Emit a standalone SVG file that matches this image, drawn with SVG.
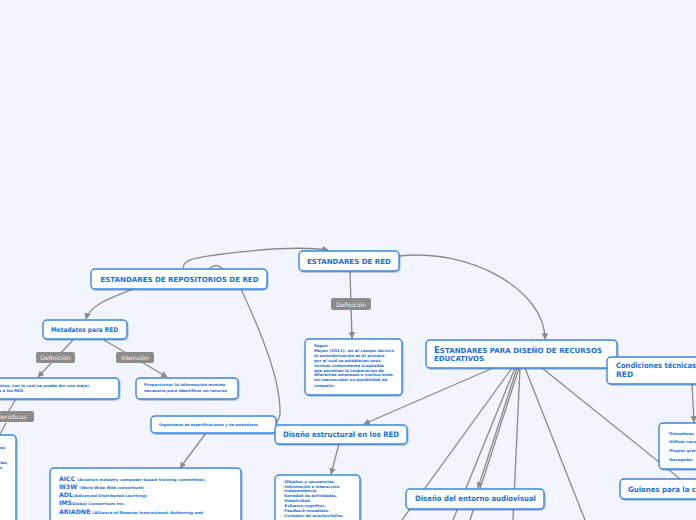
<svg xmlns="http://www.w3.org/2000/svg" width="696" height="520" viewBox="0 0 696 520">
<defs>
<marker id="ah" viewBox="0 0 10 10" refX="9" refY="5" markerWidth="6.5" markerHeight="6.5" orient="auto" markerUnits="userSpaceOnUse">
<path d="M0,0 L10,5 L0,10 z" fill="#8a8a8a"/>
</marker>
<filter id="sh" x="-10%" y="-10%" width="130%" height="150%">
<feDropShadow dx="0.8" dy="1" stdDeviation="0.6" flood-color="#1d4f8f" flood-opacity="0.35"/>
</filter>
<style>
.n{fill:#ffffff;stroke:#3a87df;stroke-width:1.4;filter:url(#sh)}
.l{fill:#8c8c8c}
.lt{font-family:"DejaVu Sans",sans-serif;font-size:6px;fill:#f2f2f2;text-anchor:middle}
.t{font-family:"DejaVu Sans",sans-serif;font-weight:bold;fill:#1b6fd4}
.c{fill:none;stroke:#8a8a8a;stroke-width:1.3}
.a{marker-end:url(#ah)}
.s{font-size:3.9px}
.m{text-anchor:middle}
</style>
</defs>
<rect width="696" height="520" fill="#f2f5fd"/>
<g id="connectors">
<path class="c a" d="M183,268 C184,259 195,258 215,255 C260,249 300,246 328,250"/>
<path class="c" d="M209,269 Q216,262 223,269"/>
<path class="c a" d="M399,256 C470,248 545,290 545,339"/>
<path class="c a" d="M350,271 L352,338"/>
<path class="c a" d="M133,289 C110,298 90,305 86,319"/>
<path class="c a" d="M73,340 L38,377"/>
<path class="c a" d="M104,340 L167,377"/>
<path class="c" d="M16,399 L8,412"/>
<path class="c" d="M6,423 L0,434"/>
<path class="c" d="M241,289 C260,330 281,380 280,414 Q279,421 275,424"/>
<path class="c a" d="M206,433 L180,468"/>
<path class="c a" d="M493,368 L364,424"/>
<path class="c a" d="M339,444 L331,474"/>
<path class="c" d="M512,368 L402,520"/>
<path class="c" d="M515,368 L453,520"/>
<path class="c a" d="M517,368 L478,488"/>
<path class="c" d="M519,368 L470,520"/>
<path class="c" d="M520,368 L513,520"/>
<path class="c" d="M525,368 L585,520"/>
<path class="c" d="M542,368 L700,495"/>
<path class="c a" d="M692,384 L694,422"/>
</g>
<g id="lbl-def1"><rect class="l" x="331" y="298" width="40" height="12" rx="2"/><text class="lt" x="351" y="306.5">Definición</text></g>
<g id="lbl-def2"><rect class="l" x="36" y="352" width="39" height="11" rx="2"/><text class="lt" x="55.5" y="360">Definición</text></g>
<g id="lbl-int"><rect class="l" x="116" y="352" width="38" height="11" rx="2"/><text class="lt" x="135" y="360">Intensión</text></g>
<g id="lbl-car"><rect class="l" x="-20" y="411" width="54" height="11" rx="2"/><text class="lt" x="4" y="418.5">Características</text></g>
<g id="n-repos"><rect class="n" x="91" y="269" width="176" height="20" rx="4"/><text class="t m" x="179.5" y="282" font-size="7" textLength="158" lengthAdjust="spacingAndGlyphs">ESTANDARES DE REPOSITORIOS DE RED</text></g>
<g id="n-red"><rect class="n" x="299" y="251" width="100" height="20" rx="4"/><text class="t m" x="349" y="263.5" font-size="7" textLength="84" lengthAdjust="spacingAndGlyphs">ESTANDARES DE RED</text></g>
<g id="n-defred"><rect class="n" x="305" y="339" width="97" height="56" rx="4"/>
<text class="t s" font-size="4">
<tspan x="314" y="347.3">Según</tspan>
<tspan x="314" y="352.3" textLength="80" lengthAdjust="spacingAndGlyphs">Mejan (2011), en el campo técnico</tspan>
<tspan x="314" y="357">la estandarización es el proceso</tspan>
<tspan x="314" y="362">por el cual se establecen unas</tspan>
<tspan x="314" y="366.7">normas comúnmente aceptadas</tspan>
<tspan x="314" y="371.7">que permiten la cooperación de</tspan>
<tspan x="314" y="376.3">diferentes empresas o instituciones</tspan>
<tspan x="314" y="381.3">sin menoscabar su posibilidad de</tspan>
<tspan x="314" y="386.5">competir.</tspan>
</text></g>
<g id="n-diseno"><rect class="n" x="426" y="340" width="191" height="28" rx="4"/>
<text class="t" font-size="7"><tspan x="434" y="352.7" textLength="168" lengthAdjust="spacingAndGlyphs"><tspan font-size="8.5">E</tspan>STANDARES PARA DISEÑO DE RECURSOS</tspan><tspan x="434" y="360.7">EDUCATIVOS</tspan></text></g>
<g id="n-cond"><rect class="n" x="607" y="357" width="100" height="27" rx="4"/>
<text class="t" font-size="7.5"><tspan x="616" y="368.3" textLength="80" lengthAdjust="spacingAndGlyphs">Condiciones técnicas</tspan><tspan x="616" y="376.8">RED</tspan></text></g>
<g id="n-meta"><rect class="n" x="43" y="320" width="84" height="19" rx="4"/><text class="t m" x="84.5" y="331.7" font-size="6.5" textLength="67" lengthAdjust="spacingAndGlyphs">Metadatos para RED</text></g>
<g id="n-metadef"><rect class="n" x="-20" y="378" width="139" height="21" rx="4"/>
<text class="t s"><tspan x="-3" y="386.5">datos, con lo cual se puede dar una mejor</tspan><tspan x="-1" y="391.7">s a los RED</tspan></text></g>
<g id="n-prop"><rect class="n" x="136" y="378" width="102" height="21" rx="4"/>
<text class="t s"><tspan x="144" y="385.7" textLength="81" lengthAdjust="spacingAndGlyphs">Proporcionar la información mínima</tspan><tspan x="144" y="391.7" textLength="83" lengthAdjust="spacingAndGlyphs">necesaria para identificar un recurso</tspan></text></g>
<g id="n-carac"><rect class="n" x="-20" y="435" width="36" height="100" rx="4"/>
<text class="t s" text-anchor="end"><tspan x="5" y="449">es</tspan><tspan x="8" y="464">ales,</tspan><tspan x="2" y="469">n</tspan></text></g>
<g id="n-org"><rect class="n" x="151" y="416" width="125" height="17" rx="4"/><text class="t m" x="208.5" y="425.7" font-size="3.6" textLength="99" lengthAdjust="spacingAndGlyphs">Organismos de especificaciones y de estandares</text></g>
<g id="n-aicc"><rect class="n" x="50" y="468" width="191" height="70" rx="4"/>
<text class="t" font-size="6.2"><tspan x="59" y="480.5">AICC</tspan><tspan x="76" font-size="3.7" textLength="130" lengthAdjust="spacingAndGlyphs"> (Aviation industry computer-based training committee).</tspan></text>
<text class="t" font-size="6.2"><tspan x="59" y="488.5">W3W</tspan><tspan x="78" font-size="3.7" textLength="66" lengthAdjust="spacingAndGlyphs"> (Word Wide Web consortium)</tspan></text>
<text class="t" font-size="6.2"><tspan x="59" y="497">ADL</tspan><tspan x="73" font-size="3.7" textLength="74" lengthAdjust="spacingAndGlyphs">(Advanced Distributed Learning)</tspan></text>
<text class="t" font-size="6.2"><tspan x="59" y="505.3">IMS</tspan><tspan x="72" font-size="3.7" textLength="53" lengthAdjust="spacingAndGlyphs">Global Consortium Inc.</tspan></text>
<text class="t" font-size="6.2"><tspan x="59" y="513.6">ARIADNE</tspan><tspan x="89" font-size="3.7" textLength="114" lengthAdjust="spacingAndGlyphs">( (Alliance of Remote  Instructional Authoring and</tspan></text>
</g>
<g id="n-estruct"><rect class="n" x="275" y="425" width="132" height="19" rx="4"/><text class="t m" x="341" y="436.8" font-size="7.5" textLength="116" lengthAdjust="spacingAndGlyphs">Diseño estructural en los RED</text></g>
<g id="n-lista"><rect class="n" x="275" y="475" width="85" height="60" rx="4"/>
<text class="t" font-size="3.8">
<tspan x="283" y="482.7" textLength="51" lengthAdjust="spacingAndGlyphs">-Objetos  y secuencias</tspan>
<tspan x="283" y="487.7">-Información e interacción</tspan>
<tspan x="283" y="492.3">-Independencia.</tspan>
<tspan x="283" y="497.3">-Variedad de actividades.</tspan>
<tspan x="283" y="502.3">-Simplicidad.</tspan>
<tspan x="283" y="507.3">-Esfuerzo cognitivo.</tspan>
<tspan x="283" y="512.3">-Feedback inmediato.</tspan>
<tspan x="283" y="517.3">-Contador de aciertos/fallos</tspan>
</text></g>
<g id="n-audio"><rect class="n" x="406" y="489" width="138" height="20" rx="4"/><text class="t m" x="475.5" y="500.7" font-size="7.5" textLength="121" lengthAdjust="spacingAndGlyphs">Diseño del entorno audiovisual</text></g>
<g id="n-estd"><rect class="n" x="659" y="423" width="60" height="46" rx="4"/>
<text class="t" font-size="3.8"><tspan x="668" y="435">*Estandares</tspan><tspan x="668" y="443.3">-Utilizar recur</tspan><tspan x="668" y="451.7">-Plugins grat</tspan><tspan x="668" y="461">-Navegador </tspan></text></g>
<g id="n-guion"><rect class="n" x="620" y="479" width="100" height="20" rx="4"/><text class="t" x="628" y="492.3" font-size="7.5" textLength="68" lengthAdjust="spacingAndGlyphs">Guiones para la c</text></g>
</svg>
